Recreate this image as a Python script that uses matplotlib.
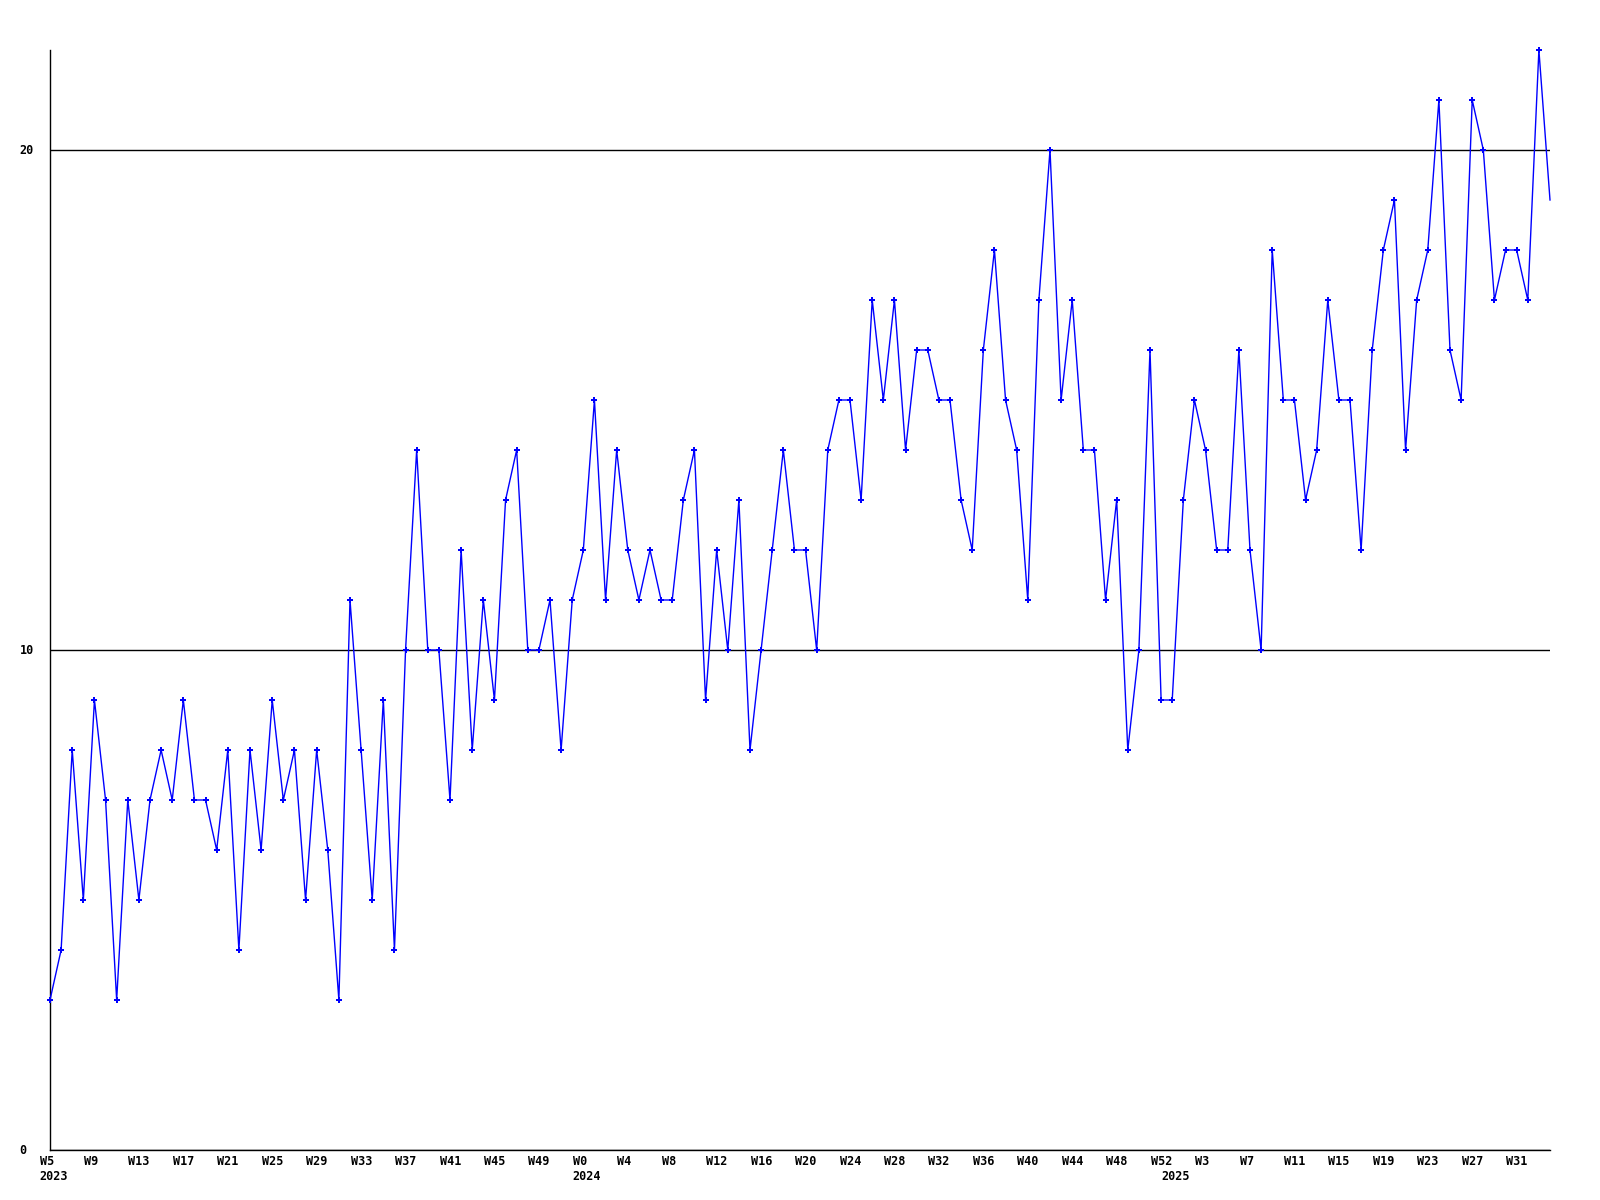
import matplotlib
matplotlib.use("Agg")
import matplotlib.pyplot as plt
import numpy as np

# weekly values, 2023 W5 .. 2025 W34
values = [
    3, 4, 8, 5, 9, 7, 3, 7, 5, 7,
    8, 7, 9, 7, 7, 6, 8, 4, 8, 6,
    9, 7, 8, 5, 8, 6, 3, 11, 8, 5,
    9, 4, 10, 14, 10, 10, 7, 12, 8, 11,
    9, 13, 14, 10, 10, 11, 8, 11, 12, 15,
    11, 14, 12, 11, 12, 11, 11, 13, 14, 9,
    12, 10, 13, 8, 10, 12, 14, 12, 12, 10,
    14, 15, 15, 13, 17, 15, 17, 14, 16, 16,
    15, 15, 13, 12, 16, 18, 15, 14, 11, 17,
    20, 15, 17, 14, 14, 11, 13, 8, 10, 16,
    9, 9, 13, 15, 14, 12, 12, 16, 12, 10,
    18, 15, 15, 13, 14, 17, 15, 15, 12, 16,
    18, 19, 14, 17, 18, 21, 16, 15, 21, 20,
    17, 18, 18, 17, 22, 19,
]

# a label every 4 weeks
tick_labels = [
    "W5", "W9", "W13", "W17", "W21", "W25", "W29", "W33", "W37", "W41", "W45", "W49",
    "W0", "W4", "W8", "W12", "W16", "W20", "W24", "W28", "W32", "W36", "W40", "W44",
    "W48", "W52",
    "W3", "W7", "W11", "W15", "W19", "W23", "W27", "W31",
]
year_labels = {0: "2023", 48: "2024", 101: "2025"}  # week index -> year start
y_ticks = [0, 10, 20]

font = {"family": "DejaVu Sans Mono", "fontweight": "bold", "fontsize": 8.5}

fig = plt.figure(figsize=(16, 12), dpi=100)
ax = fig.add_axes([50 / 1600, 50 / 1200, 1500 / 1600, 1100 / 1200])

x = np.arange(len(values))
ax.plot(x, values, color="#0000ff", linewidth=1, marker="P", markersize=4.5,
        markeredgewidth=0, markevery=slice(0, len(values) - 1), clip_on=False,
        zorder=3)

ax.set_xlim(0, len(values) - 1)
ax.set_ylim(0, 22)

for side in ["top", "right"]:
    ax.spines[side].set_visible(False)
for side in ["left", "bottom"]:
    ax.spines[side].set_color("black")
    ax.spines[side].set_linewidth(1)

ax.set_yticks(y_ticks)
ax.set_yticklabels([])
ax.set_xticks([])
ax.tick_params(length=0)
ax.yaxis.grid(True, color="black", linewidth=1)
ax.set_axisbelow(True)

for v in y_ticks:
    ax.annotate(str(v), xy=(0, v), xycoords=("axes fraction", "data"),
                xytext=(-30.5, 0), textcoords="offset pixels",
                ha="left", va="center", annotation_clip=False, **font)

for i, lab in enumerate(tick_labels):
    ax.annotate(lab, xy=(i * 4, 0), xycoords=("data", "axes fraction"),
                xytext=(-10.5, -11.5), textcoords="offset pixels",
                ha="left", va="center", annotation_clip=False, **font)

for pos, year in year_labels.items():
    ax.annotate(year, xy=(pos, 0), xycoords=("data", "axes fraction"),
                xytext=(-10.5, -26.5), textcoords="offset pixels",
                ha="left", va="center", annotation_clip=False, **font)

fig.savefig("out.png", dpi=100)
